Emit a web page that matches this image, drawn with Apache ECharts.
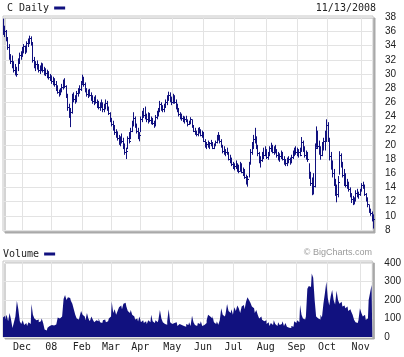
<!DOCTYPE html>
<html><head><meta charset="utf-8">
<script src="https://cdn.jsdelivr.net/npm/echarts@6/dist/echarts.min.js"></script>
<style>html,body{margin:0;padding:0;background:#fff}#c{width:404px;height:357px}</style>
</head><body><div id="c"></div>
<script>
// ---- data ----
const symbolName = 'C Daily';
const volumeName = 'Volume';
const startDate = '2007-11-13';
const endDate = '2008-11-13';
const holidays = ['2007-11-22','2007-12-25','2008-01-01','2008-01-21','2008-02-18','2008-03-21','2008-05-26','2008-07-04','2008-09-01'];
const monthNames = ['Jan','Feb','Mar','Apr','May','Jun','Jul','Aug','Sep','Oct','Nov','Dec'];
const priceTicks = [8,10,12,14,16,18,20,22,24,26,28,30,32,34,36,38];
const volumeTicks = [0,100,200,300,400];

const high = [
 37.8,36.8,36.2,35.2,34.2,32.8,32.6,31.8,31.4,31.0,32.2,33.0,33.2,
 33.8,34.2,34.0,34.6,35.0,35.4,35.3,34.5,32.4,31.8,31.9,31.4,31.2,31.6,31.5,31.0,30.8,30.6,
 30.4,30.0,29.8,29.6,29.4,29.0,28.4,27.8,28.0,28.6,29.2,29.4,28.4,27.2,25.8,25.2,
 27.2,27.4,27.0,27.6,28.0,28.4,29.0,29.9,29.6,28.8,28.0,27.8,27.9,27.4,
 27.0,26.8,27.0,26.4,26.2,26.0,26.4,26.0,25.8,26.4,26.2,25.4,24.6,23.8,23.4,22.8,22.2,21.9,21.4,21.2,21.6,21.0,20.2,19.6,21.2,
 21.8,22.4,23.4,24.6,24.0,23.0,22.4,21.8,24.0,24.8,25.2,25.4,24.4,24.6,24.5,24.0,23.8,23.4,24.2,
 24.8,25.2,26.2,26.0,25.6,25.8,26.4,27.0,27.5,27.4,26.8,27.2,27.0,26.4,25.8,25.2,24.6,24.4,24.1,24.0,24.1,23.6,23.4,23.9,
 23.6,22.8,22.4,22.0,22.4,22.5,22.2,22.0,21.8,20.8,20.4,20.6,20.4,20.7,20.4,20.2,20.6,21.4,21.8,21.4,20.8,20.0,19.8,19.4,19.6,19.0,18.6,18.2,17.6,17.4,17.8,17.4,17.2,17.6,17.4,16.8,16.6,15.8,15.6,17.6,19.4,20.4,
 21.4,22.4,21.2,20.0,19.0,18.4,19.0,19.6,19.8,19.4,19.0,19.8,20.3,20.0,19.8,20.0,19.4,19.0,18.8,19.2,19.0,18.4,18.0,18.2,18.4,18.2,18.6,19.2,19.6,19.8,19.6,19.4,19.6,21.1,20.6,19.8,19.2,19.0,17.4,16.2,15.4,16.0,20.2,22.6,22.0,20.6,19.8,20.4,21.0,22.0,23.6,23.2,21.0,19.0,17.8,16.6,15.2,14.4,15.6,19.1,18.8,17.6,16.6,16.0,15.2,14.8,14.0,13.2,12.8,12.6,13.6,13.8,13.4,13.8,14.6,14.8,14.4,13.2,12.6,11.6,11.0,10.6,10.2
];
const low = [
 35.5,35.2,34.6,33.4,32.0,31.4,30.8,30.2,29.8,29.6,30.4,31.4,32.0,
 32.4,32.9,32.8,33.0,33.8,34.2,34.0,31.6,30.8,30.4,30.6,30.2,30.0,30.4,30.2,29.8,29.7,29.4,
 29.2,29.0,28.6,28.4,28.2,27.6,27.2,26.8,27.0,27.4,27.8,28.0,26.6,24.8,23.8,22.5,
 24.4,26.0,25.8,26.0,26.8,27.2,27.6,28.6,28.2,27.4,26.8,26.6,26.8,26.2,
 25.8,25.6,25.8,25.2,25.0,24.8,25.2,24.6,24.6,25.0,24.8,24.2,23.2,22.6,22.0,21.4,21.0,20.6,20.0,19.8,20.2,19.4,18.6,18.0,19.4,
 20.2,20.8,21.8,22.6,22.4,21.6,20.8,20.5,21.8,23.2,23.8,23.6,23.2,23.0,23.2,22.9,22.8,22.4,22.6,
 23.6,24.0,24.6,24.8,24.6,24.6,25.2,25.6,26.2,26.0,25.6,25.8,25.8,25.0,24.6,24.0,23.6,23.4,23.2,23.0,23.2,22.6,22.8,22.9,
 22.4,21.8,21.4,21.2,21.2,21.6,21.2,21.0,20.4,19.6,19.4,19.6,19.4,19.8,19.4,19.4,19.8,20.2,20.6,20.2,19.6,18.8,18.6,18.4,18.6,17.8,17.4,17.0,16.6,16.4,16.6,16.2,16.0,16.2,16.0,15.6,15.2,14.4,14.1,15.4,17.2,18.6,
 19.4,20.2,19.4,18.4,17.4,16.8,17.6,18.0,18.4,18.0,17.9,18.4,19.0,18.8,18.6,18.8,18.2,17.8,17.6,18.0,17.8,17.2,17.0,17.0,17.4,17.2,17.4,18.0,18.4,18.6,18.4,18.2,18.4,19.0,19.0,18.2,17.9,17.6,15.2,14.2,12.9,13.0,14.0,19.6,19.4,18.6,17.9,18.4,19.2,19.2,20.4,20.4,17.8,16.5,15.4,14.2,12.8,11.9,12.6,15.8,16.8,15.4,14.2,14.0,13.8,13.4,12.6,11.8,11.5,11.6,12.0,12.6,12.4,12.8,13.4,13.8,12.8,12.0,11.2,10.4,10.0,9.2,8.2
];
const close = [
 36.3,36.0,35.0,33.8,32.4,31.8,31.2,30.6,30.2,30.0,31.8,32.6,32.8,
 33.4,33.9,33.2,34.3,34.6,35.0,34.4,31.9,31.2,31.4,30.9,30.6,30.9,31.2,30.5,30.3,30.1,29.8,
 29.5,29.4,29.0,28.8,28.6,27.9,27.5,27.2,27.6,28.2,28.9,28.3,26.9,25.3,24.3,24.6,
 26.8,26.4,26.2,27.3,27.6,27.9,28.6,29.4,28.6,27.7,27.1,27.4,27.0,26.6,
 26.2,26.5,26.0,25.6,25.3,25.7,25.5,25.0,25.4,25.9,25.1,24.5,23.6,23.0,22.6,21.8,21.4,21.0,20.4,20.8,20.6,19.9,19.0,19.2,20.9,
 20.6,22.0,23.0,23.8,22.8,22.0,21.2,21.4,23.6,24.4,24.2,24.0,23.6,24.1,23.5,23.4,23.1,22.8,23.9,
 24.5,24.8,25.8,25.2,25.0,25.5,26.0,26.6,27.0,26.4,26.1,26.8,26.0,25.3,24.9,24.3,24.0,23.8,23.5,23.6,23.4,22.9,23.2,23.6,
 22.6,22.0,21.6,21.5,22.0,21.9,21.4,21.8,20.6,19.9,20.1,19.8,20.2,20.0,19.6,20.0,20.4,21.0,21.2,20.5,19.9,19.2,18.9,19.0,18.8,18.0,17.8,17.3,16.8,17.0,16.9,16.6,16.3,17.3,16.2,16.1,15.5,14.8,15.2,17.4,19.0,19.8,
 20.8,21.0,19.8,18.8,17.8,17.9,18.6,18.6,19.2,18.3,18.6,19.5,19.8,19.0,19.6,19.1,18.5,18.2,18.4,18.9,18.0,17.6,17.4,17.9,18.0,17.6,18.3,18.9,19.3,19.0,18.8,19.0,18.6,20.4,19.4,18.5,18.8,18.0,15.6,14.6,13.8,14.2,19.6,21.8,19.8,19.2,18.6,20.0,20.6,21.4,22.8,21.0,18.4,17.2,16.0,14.6,13.4,13.0,14.8,18.6,17.2,15.8,15.6,14.4,14.6,13.8,13.0,12.4,11.8,12.4,13.2,12.8,13.0,13.6,14.4,14.2,13.0,12.2,11.6,10.8,10.4,9.4,9.6
];
const volume = [
 105,115,95,120,85,130,95,48,80,110,195,150,
 85,70,90,65,75,60,80,70,
 178,
 120,100,90,95,80,85,100,75,
 40,35,50,
 60,65,70,62,68,72,
 105,100,110,
 120,205,227,200,215,210,195,
 180,150,120,100,95,110,
 140,
 120,110,90,130,100,85,110,95,80,90,
 85,100,80,75,90,95,80,85,100,110,
 190,
 130,150,120,140,160,170,150,180,185,165,140,130,
 146,120,110,95,100,84,110,
 80,90,75,85,70,90,80,120,85,75,90,80,95,146,
 100,80,70,66,85,150,
 80,70,75,65,80,60,70,65,75,60,55,70,65,80,60,114,
 80,65,60,75,70,85,60,65,75,90,
 120,110,100,115,
 80,70,84,66,90,
 155,
 120,110,125,
 178,
 140,130,150,120,160,140,170,155,130,165,173,150,190,
 215,200,185,165,
 155,130,145,120,100,110,93,
 85,90,70,80,60,75,65,90,70,60,80,65,70,85,60,75,
 55,50,48,60,55,
 85,75,90,80,
 173,
 120,100,95,110,
 260,275,270,
 343,320,200,
 110,100,95,120,105,
 180,235,298,210,170,
 220,253,200,175,250,
 200,180,190,165,170,155,
 164,140,150,137,120,
 93,80,75,90,
 155,130,110,120,
 93,100,
 200,240,280
];

// ---- trading calendar ----
function buildDays(){
  const out = [];
  const d = new Date(startDate + 'T00:00:00Z');
  const e = new Date(endDate + 'T00:00:00Z');
  while (d <= e) {
    const wd = d.getUTCDay();
    const s = d.toISOString().slice(0,10);
    if (wd !== 0 && wd !== 6 && holidays.indexOf(s) < 0) out.push(s);
    d.setUTCDate(d.getUTCDate() + 1);
  }
  return out;
}
const days = buildDays();
const monthStart = days.map((d,i) => i > 0 && d.slice(0,7) !== days[i-1].slice(0,7));
const last = days[days.length-1];
const dateLabel = last.slice(5,7) + '/' + last.slice(8,10) + '/' + last.slice(0,4);

const NAVY = '#11117f';
const GRIDC = '#e3e3e3';
const TXT = '#222';
const MONO = '"DejaVu Sans Mono", monospace';
const SANS = '"Liberation Sans", Arial, sans-serif';

function renderItem(params, api){
  const xi = api.value(0);
  const pH = api.coord([xi, api.value(1)]);
  const pL = api.coord([xi, api.value(2)]);
  const pC = api.coord([xi, api.value(3)]);
  const x = Math.round(pH[0]) + 0.5;
  const yc = Math.round(pC[1]) + 0.5;
  const st = {stroke: NAVY, lineWidth: 1};
  return {type:'group', children:[
    {type:'line', shape:{x1:x, y1:pH[1], x2:x, y2:pL[1]}, style:st},
    {type:'line', shape:{x1:x, y1:yc, x2:x+1.5, y2:yc}, style:st}
  ]};
}

const gridBox = {show:true, backgroundColor:'#fff', borderColor:'#c6c6c6', borderWidth:1,
  shadowColor:'#a9a9a9', shadowOffsetX:2, shadowOffsetY:2, shadowBlur:0};

const chart = echarts.init(document.getElementById('c'), null, {renderer:'canvas'});
chart.setOption({
  animation:false,
  backgroundColor:'#fff',
  legend:[
    {data:[symbolName], left:7, top:3, padding:0, align:'right', icon:'rect', itemWidth:11, itemHeight:3,
     selectedMode:false, textStyle:{fontFamily:MONO, fontSize:10, color:TXT}},
    {data:[volumeName], left:3, top:249, padding:0, align:'right', icon:'rect', itemWidth:11, itemHeight:3,
     selectedMode:false, textStyle:{fontFamily:MONO, fontSize:10, color:TXT}}
  ],
  graphic:[
    {type:'text', right:28, top:3, style:{text:dateLabel, font:'10px ' + MONO, fill:TXT}},
    {type:'text', right:32, top:248, style:{text:'\u00a9 BigCharts.com', font:'9px ' + SANS, fill:'#9a9a9a'}}
  ],
  grid:[
    Object.assign({left:3, top:16, width:370, height:215}, gridBox),
    Object.assign({left:3, top:261, width:370, height:76}, gridBox)
  ],
  xAxis:[
    {type:'category', gridIndex:0, data:days, boundaryGap:false,
     axisLine:{show:false}, axisTick:{show:false}, axisLabel:{show:false},
     splitLine:{show:true, interval:(i) => monthStart[i], lineStyle:{color:GRIDC, width:1}}},
    {type:'category', gridIndex:1, data:days, boundaryGap:false,
     axisLine:{show:false}, axisTick:{show:false},
     axisLabel:{show:true, interval:(i) => monthStart[i], margin:5, fontFamily:MONO, fontSize:10, color:TXT,
       formatter:(v) => { const m = +v.slice(5,7); return m === 1 ? v.slice(2,4) : monthNames[m-1]; }},
     splitLine:{show:true, interval:(i) => monthStart[i], lineStyle:{color:GRIDC, width:1}}}
  ],
  yAxis:[
    {type:'value', gridIndex:0, position:'right', min:7.85, max:38.17, scale:true,
     axisLine:{show:false}, axisTick:{show:false, customValues:priceTicks},
     axisLabel:{customValues:priceTicks, margin:12, fontFamily:SANS, fontSize:10, color:TXT},
     splitLine:{show:true, lineStyle:{color:GRIDC, width:1}}},
    {type:'value', gridIndex:1, position:'right', min:0, max:410,
     axisLine:{show:false}, axisTick:{show:false, customValues:volumeTicks},
     axisLabel:{customValues:volumeTicks, margin:12, fontFamily:SANS, fontSize:10, color:TXT},
     splitLine:{show:true, lineStyle:{color:GRIDC, width:1}}}
  ],
  series:[
    {name:symbolName, type:'custom', xAxisIndex:0, yAxisIndex:0, renderItem:renderItem,
     itemStyle:{color:NAVY}, encode:{x:0, y:[1,2,3]},
     data: days.map((d,i) => [d, high[i], low[i], close[i]])},
    {name:volumeName, type:'line', xAxisIndex:1, yAxisIndex:1, step:'middle', showSymbol:false,
     lineStyle:{width:0, color:NAVY}, itemStyle:{color:NAVY}, areaStyle:{color:NAVY, opacity:1},
     data:volume}
  ]
});
</script></body></html>
